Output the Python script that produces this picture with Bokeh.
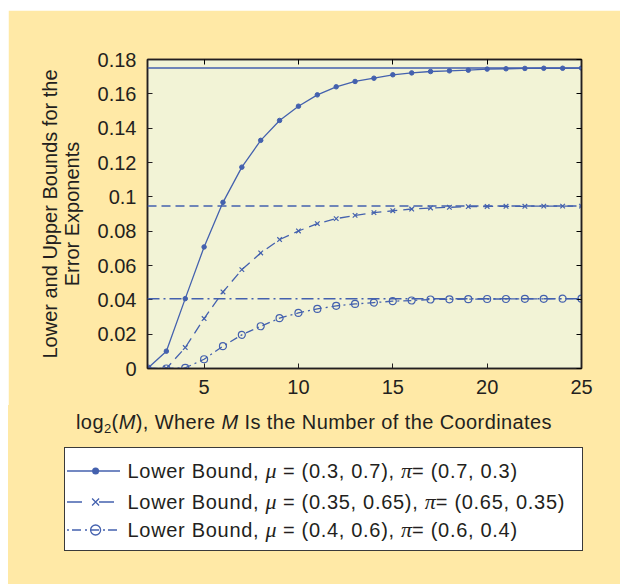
from bokeh.plotting import figure
from bokeh.layouts import column
from bokeh.models import Range1d, LinearAxis, FixedTicker, CustomJSTickFormatter, Span, Div
from bokeh.embed import file_html
from bokeh.resources import INLINE

# ---------------- data ----------------
log2M = list(range(2, 26))
lower_a = [0.0, 0.0101, 0.0407, 0.0708, 0.0968, 0.1173, 0.1329, 0.1445, 0.1528, 0.1594,
           0.1641, 0.1672, 0.1691, 0.1711, 0.1722, 0.1730, 0.1734, 0.1738, 0.1744, 0.1746,
           0.1748, 0.1749, 0.1749, 0.1750]
lower_b = [0.0, 0.0, 0.0122, 0.0291, 0.0446, 0.0576, 0.0673, 0.0751, 0.0801, 0.0844,
           0.0873, 0.0892, 0.0908, 0.0919, 0.0929, 0.0935, 0.0939, 0.0943, 0.0944, 0.0945,
           0.0945, 0.0946, 0.0946, 0.0946]
lower_c = [0.0, 0.0, 0.0004, 0.0054, 0.0130, 0.0196, 0.0246, 0.0293, 0.0324, 0.0347,
           0.0365, 0.0376, 0.0384, 0.0392, 0.0396, 0.0402, 0.0403, 0.0404, 0.0405, 0.0405,
           0.0406, 0.0406, 0.0407, 0.0407]
upper = [0.175, 0.0946, 0.0407]
mu_labels = ["(0.3, 0.7)", "(0.35, 0.65)", "(0.4, 0.6)"]
pi_labels = ["(0.7, 0.3)", "(0.65, 0.35)", "(0.6, 0.4)"]
x_ticks = [5, 10, 15, 20, 25]
y_ticks = [0, 0.02, 0.04, 0.06, 0.08, 0.1, 0.12, 0.14, 0.16, 0.18]
y_title = "Lower and Upper Bounds for the\nError Exponents"

# ---------------- style ----------------
PANEL = "#FFE9A6"
FRAME_BG = "#F2F3D6"
BLUE = "#4461AE"
INK = "#231F20"
FONT = "Liberation Sans"
FSS = "20px"

# ---------------- main plot ----------------
p = figure(width=612, height=395, x_range=Range1d(2, 25), y_range=Range1d(0, 0.18),
           output_backend="svg", toolbar_location=None,
           min_border_left=139, min_border_right=39, min_border_top=49, min_border_bottom=37,
           background_fill_color=FRAME_BG, border_fill_color=PANEL,
           outline_line_color=INK, outline_line_width=1.5)
p.grid.visible = False

fmt = CustomJSTickFormatter(code="return String(Math.round(tick*100)/100);")
for ax in p.xaxis:
    ax.ticker = FixedTicker(ticks=x_ticks)
for ax in p.yaxis:
    ax.ticker = FixedTicker(ticks=y_ticks)
    ax.formatter = fmt
    ax.axis_label = y_title
    ax.axis_label_text_font = FONT
    ax.axis_label_text_font_size = FSS
    ax.axis_label_text_font_style = "normal"
    ax.axis_label_text_color = INK
    ax.axis_label_text_line_height = 1.0
    ax.axis_label_standoff = 12
for ax in list(p.xaxis) + list(p.yaxis):
    ax.major_tick_in = 5
    ax.major_tick_out = 0
    ax.minor_tick_line_color = None
    ax.axis_line_color = INK
    ax.axis_line_width = 1.5
    ax.major_tick_line_color = INK
    ax.major_label_text_font = FONT
    ax.major_label_text_font_size = FSS
    ax.major_label_text_color = INK
    ax.major_label_standoff = 11

blank = CustomJSTickFormatter(code="return '';")
top = LinearAxis(ticker=FixedTicker(ticks=x_ticks), formatter=blank,
                 major_tick_in=5, major_tick_out=0, minor_tick_line_color=None,
                 axis_line_color=INK, axis_line_width=1.5, major_label_standoff=0)
right = LinearAxis(ticker=FixedTicker(ticks=y_ticks), formatter=blank,
                   major_tick_in=5, major_tick_out=0, minor_tick_line_color=None,
                   axis_line_color=INK, axis_line_width=1.5, major_label_standoff=0)
p.add_layout(top, "above")
p.add_layout(right, "right")

# upper bounds
dashes_upper = ["solid", "9 5", "12 4 2 4"]
for u, d in zip(upper, dashes_upper):
    p.add_layout(Span(location=u, dimension="width", line_color=BLUE, line_width=1.5, line_dash=d))

# lower bounds
p.line(log2M, lower_a, line_color=BLUE, line_width=1.3)
p.scatter(log2M, lower_a, marker="circle", size=4.5, fill_color=BLUE, line_color=BLUE)
p.line(log2M, lower_b, line_color=BLUE, line_width=1.3, line_dash="10 6")
p.scatter(log2M, lower_b, marker="x", size=6.5, line_color=BLUE, line_width=1.2)
p.line(log2M, lower_c, line_color=BLUE, line_width=1.3, line_dash="8 4 2 4")
p.scatter(log2M, lower_c, marker="circle", size=7, fill_color=None, line_color=BLUE, line_width=1.2)

# ---------------- x title + legend (HTML panel) ----------------
greek = "font-family:'Liberation Serif';font-style:italic;font-size:22px;letter-spacing:0;"
samples = [
    f"<line x1='0' y1='10' x2='53' y2='10' stroke='{BLUE}' stroke-width='1.3'/>"
    f"<circle cx='28.6' cy='10' r='3.5' fill='{BLUE}'/>",
    f"<line x1='0' y1='10' x2='53' y2='10' stroke='{BLUE}' stroke-width='1.3' stroke-dasharray='15 17'/>"
    f"<path d='M25.1 6.5 L32.1 13.5 M25.1 13.5 L32.1 6.5' stroke='{BLUE}' stroke-width='1.3'/>",
    f"<line x1='0' y1='10' x2='53' y2='10' stroke='{BLUE}' stroke-width='1.3' stroke-dasharray='2 3 9 4'/>"
    f"<circle cx='28.6' cy='10' r='5' fill='none' stroke='{BLUE}' stroke-width='1.3'/>",
]
row_y = [66.0, 96.5, 125.0]
rows_html = ""
for ry, mu, pi, svg in zip(row_y, mu_labels, pi_labels, samples):
    rows_html += (
        f'<div style="position:absolute;left:59px;top:{ry - 10:.1f}px;height:20px;'
        f'display:flex;align-items:center;white-space:nowrap;">'
        f'<svg width="53" height="20" style="display:block">{svg}</svg>'
        f'<span style="margin-left:7.5px;line-height:20px;letter-spacing:0.7px;">Lower Bound, '
        f'<span style="{greek}">\u03bc</span> = {mu}, '
        f'<span style="{greek}">\u03c0</span>= {pi}</span></div>'
    )

html = (
    f'<div style="position:relative;width:612px;height:179px;background:{PANEL};overflow:hidden;'
    f"font-family:'{FONT}';font-size:20px;color:{INK};\">"
    f'<div style="position:absolute;left:0;top:7px;width:612px;text-align:center;line-height:20px;'
    f'letter-spacing:0.4px;white-space:nowrap;">'
    f'log<sub style="font-size:13px;vertical-align:-4px;line-height:0">2</sub>(<i>M</i>), Where <i>M</i> '
    f'Is the Number of the Coordinates</div>'
    f'<div style="position:absolute;left:56px;top:42px;width:519px;height:104px;background:white;'
    f'border:1.3px solid #3A3A3A;"></div>'
    f'{rows_html}</div>'
)
legend_div = Div(text=html, width=612, height=179, margin=0)

layout = column(p, legend_div, spacing=0, margin=(10, 0, 0, 8))

open("out.html", "w").write(file_html(layout, INLINE))
